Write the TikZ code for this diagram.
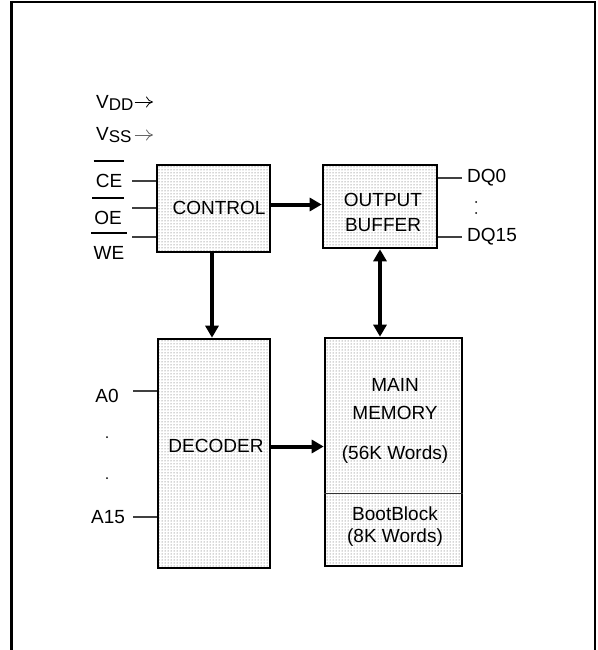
\documentclass[tikz,border=0pt]{standalone}
\usepackage{fontspec}
\setmainfont{Liberation Sans}
\usetikzlibrary{patterns,arrows.meta}
\begin{document}
\begin{tikzpicture}[x=1pt,y=-1pt,>={Triangle[length=12pt,width=13pt]},
		every node/.style={font=\fontsize{19}{22}\selectfont,inner sep=0pt},
		blk/.style={draw,line width=2.6pt,pattern=dots,pattern color=black!70},
		bus/.style={line width=4pt},
		wire/.style={line width=1.1pt,black!75},
		bar/.style={line width=2.4pt},
		pwr/.style={line width=.8pt,-{To[length=7pt,width=11pt]}}]
	\useasboundingbox (0,0) rectangle (597,650);
	% frame
	\draw[line width=2pt] (595,650)--(595,2)--(11,2);
	\draw[line width=3pt] (11,1)--(11,650);
	\draw[line width=1pt] (595,2)--(595,650);
	% blocks
	\node[blk,minimum width=113pt,minimum height=87pt] (control) at (213.5,208.5) {};
	\node[blk,minimum width=114pt,minimum height=83pt] (output) at (380,206.5) {};
	\node[blk,minimum width=112pt,minimum height=229pt] (decoder) at (214,453.5) {};
	\node[blk,minimum width=137pt,minimum height=228pt] (memory) at (393.5,452) {};
	\draw[line width=.8pt,black!80] ([yshift=-41pt]memory.west)--([yshift=-41pt]memory.east);
	% block texts
	\node (ctltxt) at (219,208) {CONTROL};
	\node[align=center] (outtxt) at (383,212.5) {OUTPUT\\[3pt]BUFFER};
	\node (dectxt) at (216,446) {DECODER};
	\node (mmain) at (395,385) {MAIN};
	\node (mmem) at (395,413) {MEMORY};
	\node (mwords) at (395,455) {(56K Words)};
	\node (mboot) at (395,514) {BootBlock};
	\node (mbwords) at (395,538) {(8K Words)};
	% connectors
	\draw[bus,->] ([yshift=4pt]control.east)--([yshift=4pt]control.east -| output.west);
	\draw[bus,->] ([xshift=-1.5pt]control.south)--([xshift=-1.5pt]control.south |- decoder.north);
	\draw[bus,<->] (output.south)--(output.south |- memory.north);
	\draw[bus,->] ([yshift=7pt]decoder.east)--([yshift=7pt]decoder.east -| memory.west);
	% supplies
	\node[anchor=west] (vdd) at (96,103) {V\raisebox{-2pt}{\fontsize{17}{18}\selectfont DD}};
	\node[anchor=west] (vss) at (96,135) {V\raisebox{-2pt}{\fontsize{17}{18}\selectfont SS}};
	\coordinate (vddend) at (153,102);
	\coordinate (vssend) at (153,135);
	\draw[pwr] ([xshift=1pt]vdd.east |- vddend)--(vddend);
	\draw[pwr,black!60] ([xshift=3pt]vss.east |- vssend)--(vssend);
	% control inputs
	\node (ce) at (109,181) {CE};
	\node (oe) at (108,218) {OE};
	\node (we) at (109,253) {WE};
	\foreach \n in {ce,oe,we}
		\draw[bar] ([yshift=13pt,xshift=-2pt]\n.north west)--([yshift=13pt,xshift=2pt]\n.north east);
	\coordinate (cein) at (132,181);
	\coordinate (oein) at (132,208);
	\coordinate (wein) at (132,237);
	\foreach \c in {cein,oein,wein}
		\draw[wire] (\c)--(\c -| control.west);
	% address inputs
	\node (a0) at (107,396) {A0};
	\node (a15) at (108,517) {A15};
	\coordinate (a0in) at (133,391);
	\coordinate (a15in) at (133,517);
	\draw[wire] (a0in)--(a0in -| decoder.west);
	\draw[wire] (a15in)--(a15in -| decoder.west);
	\fill (107,437) circle (1pt) (107,478) circle (1pt);
	% data outputs
	\node[anchor=west] (dq0) at (467,178) {DQ0};
	\node[anchor=west] (dq15) at (467,237) {DQ15};
	\coordinate (dq0out) at (462,178);
	\coordinate (dq15out) at (462,237);
	\draw[wire] (dq0out -| output.east)--(dq0out);
	\draw[wire] (dq15out -| output.east)--(dq15out);
	\fill (476,202) circle (1pt) (476,213) circle (1pt);
\end{tikzpicture}
\end{document}
